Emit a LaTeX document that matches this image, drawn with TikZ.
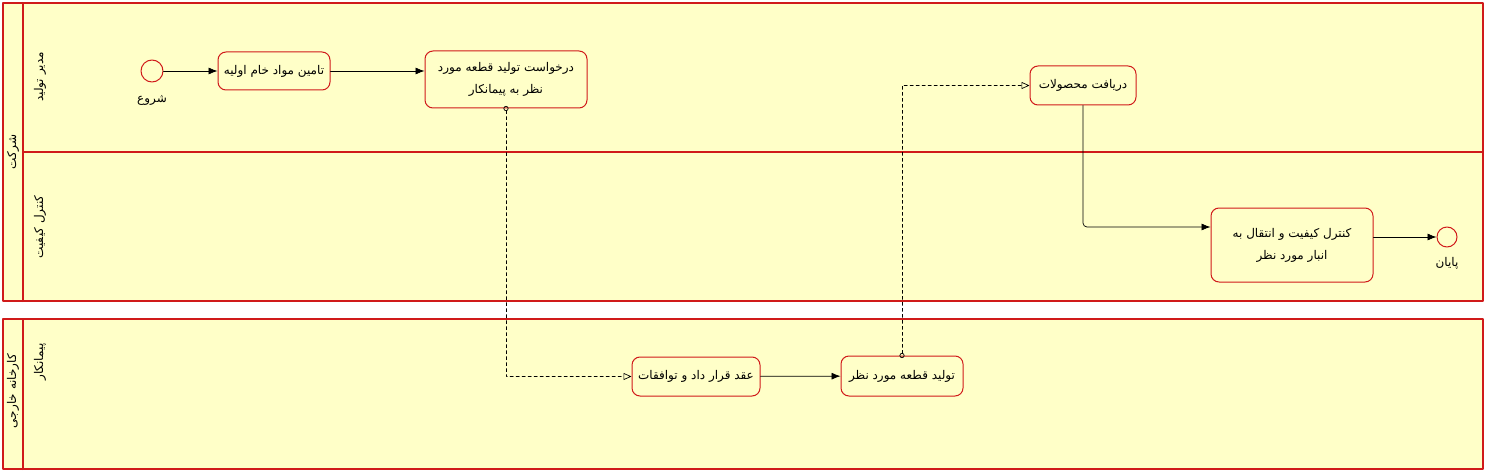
\documentclass[tikz,border=0pt]{standalone}
\usepackage{fontspec}
\usepackage{xcolor}
\usetikzlibrary{arrows.meta,positioning}
\TeXXeTstate=1
\newfontfamily\farsi[Script=Arabic]{DejaVu Sans}
\definecolor{poolfill}{HTML}{FFFFC8}
\definecolor{bpmnred}{HTML}{D01A1A}
\newcommand{\fa}[1]{\beginR #1\endR}
\tikzset{
  pool/.style={draw=bpmnred, fill=poolfill, line width=1.2pt},
  poolbar/.style={draw=bpmnred, line width=2pt},
  lanebar/.style={draw=bpmnred, line width=1.2pt},
  task/.style={
    draw=bpmnred, fill=poolfill, line width=1pt,
    rounded corners=8pt, align=center, inner sep=2pt,
    font=\farsi\fontsize{12}{22}\selectfont
  },
  event/.style={draw=bpmnred, fill=poolfill, circle, line width=1pt, inner sep=0pt},
  evlabel/.style={font=\farsi\fontsize{12}{14}\selectfont, inner sep=1pt},
  poollabel/.style={font=\farsi\fontsize{12}{14}\selectfont, rotate=90, inner sep=1pt},
  seqflow/.style={-{Latex[length=9pt,width=7pt]}, line width=0.7pt},
  msgflow/.style={
    dashed, line width=0.7pt, shorten <=-2.5pt,
    {Circle[open,length=5pt,width=5pt]}-{Triangle[open,length=8pt,width=7pt]}
  }
}

\begin{document}
\begin{tikzpicture}[x=1pt, y=-1pt, line cap=round, line join=round]
  \useasboundingbox (0,0) rectangle (1487,473);

  % pool: company, two lanes
  \draw[pool] (3,3) rectangle (1483,301);
  \draw[poolbar] (23,3) -- (23,301);
  \draw[lanebar] (23,152) -- (1483,152);
  \node[poollabel] (pcompany) at (13,152) {\fa{شرکت}};
  \node[poollabel] (lmanager) at (40,77) {\fa{مدیر تولید}};
  \node[poollabel] (lquality) at (40,227) {\fa{کنترل کیفیت}};

  % pool: outside factory
  \draw[pool] (3,319) rectangle (1483,469);
  \draw[poolbar] (23,319) -- (23,469);
  \node[poollabel] (pfactory) at (13,391) {\fa{کارخانه خارجی}};
  \node[poollabel] (lcontractor) at (40,362) {\fa{پیمانکار}};

  % events
  \node[event, minimum size=22pt] (start) at (152,71) {};
  \node[evlabel, below=12pt of start] (startlbl) {\fa{شروع}};
  \node[event, minimum size=20pt] (finish) at (1447,237) {};
  \node[evlabel, below=9pt of finish] (finishlbl) {\fa{پایان}};

  % tasks
  \node[task, minimum width=112pt, minimum height=38pt] (supply) at (274,71)
    {\fa{تامین مواد خام اولیه}};
  \node[task, minimum width=162pt, minimum height=57pt] (request) at (506,79.5)
    {\fa{درخواست تولید قطعه مورد}\\\fa{نظر به پیمانکار}};
  \node[task, minimum width=106pt, minimum height=39pt] (receive) at (1083,85.5)
    {\fa{دریافت محصولات}};
  \node[task, minimum width=162pt, minimum height=74pt] (control) at (1292,245)
    {\fa{کنترل کیفیت و انتقال به}\\\fa{انبار مورد نظر}};
  \node[task, minimum width=128pt, minimum height=39pt] (contract) at (696,376.5)
    {\fa{عقد قرار داد و توافقات}};
  \node[task, minimum width=122pt, minimum height=40pt] (produce) at (902,376)
    {\fa{تولید قطعه مورد نظر}};

  % sequence flows
  \draw[seqflow] (start) -- (supply);
  \draw[seqflow] (supply) -- (request.west |- supply);
  \draw[seqflow] (contract) -- (produce);
  \draw[seqflow, rounded corners=4pt] (receive.south) |- ([yshift=18pt]control.west);
  \draw[seqflow] (control.east |- finish) -- (finish);

  % message flows
  \draw[msgflow] (request.south) |- (contract.west);
  \draw[msgflow] (produce.north) |- (receive.west);
\end{tikzpicture}
\end{document}
